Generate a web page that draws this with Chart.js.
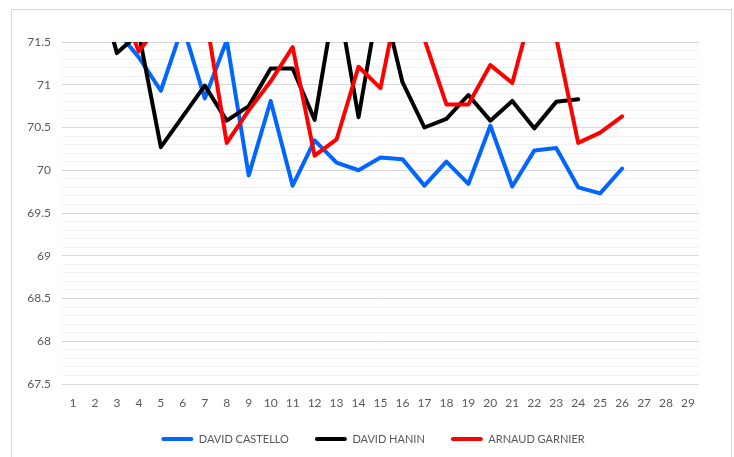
<!DOCTYPE html>
<html>
<head>
<meta charset="utf-8">
<script src="https://cdn.jsdelivr.net/npm/chart.js@4"></script>
<style>
  html, body { margin: 0; padding: 0; background: #fff; }
  #frame { position: absolute; left: 11px; top: 9px; width: 719px; height: 460px; border: 1px solid #d9d9d9; }
  #wrap { position: absolute; left: 0; top: 0; width: 719px; height: 447px; }
</style>
</head>
<body>
<div id="frame"><div id="wrap"><canvas id="chart"></canvas></div></div>
<script>
// race numbers on the x axis
const races = ['1', '2', '3', '4', '5', '6', '7', '8', '9', '10', '11', '12', '13', '14', '15',
  '16', '17', '18', '19', '20', '21', '22', '23', '24', '25', '26', '27', '28', '29']

// values above 71.5 leave the plot, those are guessed from the slopes
const castello = [72.3, 72.0, 71.63, 71.32, 70.93, 71.69, 70.84, 71.52, 69.94, 70.81, 69.82, 70.35, 70.09,
  70.00, 70.15, 70.13, 69.82, 70.10, 69.84, 70.52, 69.81, 70.23, 70.26, 69.80, 69.73, 70.02, null, null, null]
const hanin = [72.6, 72.3, 71.37, 71.6, 70.27, 70.63, 70.99, 70.58, 70.75, 71.19, 71.19, 70.59, 72.1,
  70.62, 72.1, 71.03, 70.50, 70.60, 70.88, 70.58, 70.81, 70.49, 70.80, 70.83, null, null, null, null, null]
const garnier = [72.4, 72.2, 72.03, 71.39, 71.73, 72.1, 71.87, 70.32, 70.70, 71.04, 71.44, 70.17, 70.36,
  71.21, 70.96, 72.24, 71.53, 70.77, 70.77, 71.23, 71.02, 71.98, 71.55, 70.32, 70.44, 70.63, null, null, null]

const yMin = 67.5
const yMax = 71.5

const isMajor = v => Math.abs(v * 2 - Math.round(v * 2)) < 1e-6

function series(label, data, color, order) {
  return {
    label,
    data,
    borderColor: color,
    backgroundColor: color,
    borderWidth: 4,
    pointRadius: 0,
    tension: 0,
    borderJoinStyle: 'round',
    borderCapStyle: 'round',
    order
  }
}

// legend sits a bit left of the plot centre in the original
const nudgeLegend = {
  id: 'nudgeLegend',
  afterLayout(chart) {
    chart.legend.left -= 7.5
    chart.legend.right -= 7.5
  }
}

Chart.defaults.font.family = 'Lato, "Liberation Sans", sans-serif'
Chart.defaults.font.size = 12
Chart.defaults.color = '#595959'

new Chart(document.getElementById('chart'), {
  type: 'line',
  data: {
    labels: races,
    datasets: [
      series('DAVID CASTELLO', castello, '#0066ff', 3),
      series('DAVID HANIN', hanin, '#000000', 2),
      series('ARNAUD GARNIER', garnier, '#ff0000', 1)
    ]
  },
  plugins: [nudgeLegend],
  options: {
    responsive: true,
    maintainAspectRatio: false,
    animation: false,
    layout: { padding: { left: 0, right: 32, top: 32, bottom: 2.5 } },
    plugins: {
      tooltip: { enabled: false },
      legend: {
        position: 'bottom',
        fullSize: false,
        labels: {
          font: { size: 11 },
          boxWidth: 32,
          boxHeight: 4,
          padding: 26,
          useBorderRadius: true,
          borderRadius: 2,
          sort: (a, b) => a.datasetIndex - b.datasetIndex,
          generateLabels: chart => Chart.defaults.plugins.legend.labels.generateLabels(chart)
            .map(item => Object.assign(item, { lineWidth: 0 }))
        }
      }
    },
    scales: {
      x: {
        offset: true,
        afterFit: scale => { scale.height = 23.5 },
        grid: { display: false, drawTicks: false },
        border: { display: false },
        ticks: { padding: 12, autoSkip: false, maxRotation: 0 }
      },
      y: {
        min: yMin,
        max: yMax,
        afterFit: scale => { scale.width = 50 },
        border: { display: false },
        grid: {
          drawTicks: false,
          color: ctx => isMajor(ctx.tick.value) ? '#d9d9d9' : '#f2f2f2',
          lineWidth: 1
        },
        ticks: {
          stepSize: 0.1,
          autoSkip: false,
          padding: 11,
          callback: v => isMajor(v) ? String(Math.round(v * 10) / 10) : ''
        }
      }
    }
  }
})
</script>
</body>
</html>
